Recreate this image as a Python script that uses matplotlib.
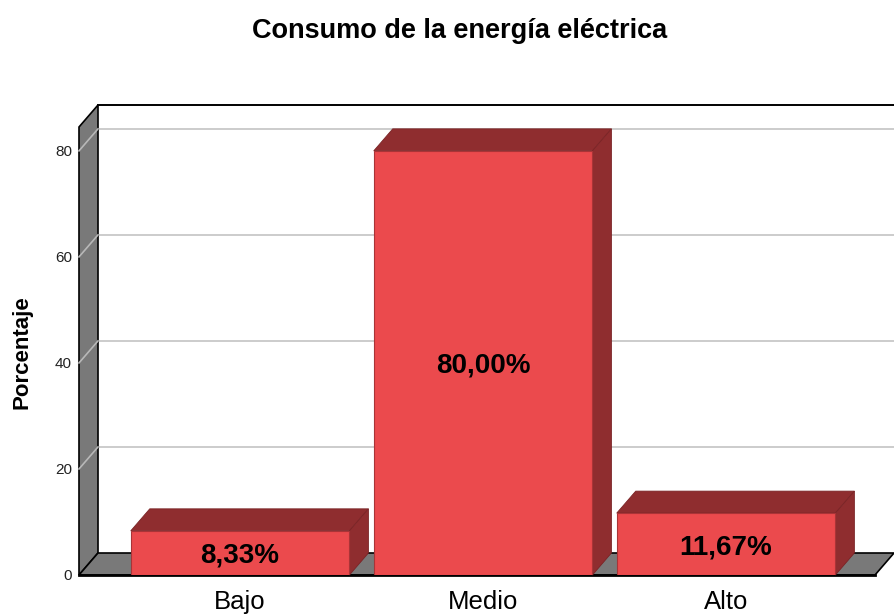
import matplotlib
matplotlib.use("Agg")
import matplotlib.pyplot as plt
from matplotlib.patches import Polygon
from matplotlib.transforms import Affine2D, IdentityTransform

plt.rcParams['font.family'] = ['Liberation Sans', 'DejaVu Sans']

# Data
categories = ['Bajo', 'Medio', 'Alto']
percentages = [8.33, 80.00, 11.67]
value_labels = ['8,33%', '80,00%', '11,67%']
yticks = [0, 20, 40, 60, 80]

front_red = '#EB4A4D'
dark_red = '#8F2D2F'
wall_gray = '#797979'
grid_gray = '#C8C8C8'

W, H = 894, 614
fig = plt.figure(figsize=(W / 100, H / 100), dpi=100)
ax = fig.add_axes([79 / W, 39 / H, 796 / W, 448 / H])
ax.set_xlim(-0.663, 2.613)
ax.set_ylim(0, 84.5)
ax.set_facecolor('none')
for s in ax.spines.values():
    s.set_visible(False)

xmin, xmax = ax.get_xlim()
ymax = ax.get_ylim()[1]

# depth offset of the 3D box, in pixels
DX, DY = 19, 22
back = ax.transData + Affine2D().translate(DX, DY)


def pt(x, y, depth=0):
    p = ax.transData.transform((x, y))
    return (p[0] + DX * depth, p[1] + DY * depth)


def poly(points, **kw):
    ax.add_patch(Polygon(points, closed=True, transform=IdentityTransform(),
                         clip_on=False, **kw))


def seg(p0, p1, **kw):
    ax.add_line(plt.Line2D([p0[0], p1[0]], [p0[1], p1[1]],
                           transform=IdentityTransform(), clip_on=False, **kw))


# back wall gridlines
for v in yticks[1:]:
    ax.plot([xmin, xmax], [v, v], transform=back, color=grid_gray, lw=1.3,
            zorder=1, clip_on=False)

# left wall and floor
poly([pt(xmin, 0), pt(xmin, ymax), pt(xmin, ymax, 1), pt(xmin, 0, 1)],
     facecolor=wall_gray, edgecolor='black', lw=1.2, zorder=2)
poly([pt(xmin, 0), pt(xmax, 0), pt(xmax, 0, 1), pt(xmin, 0, 1)],
     facecolor=wall_gray, edgecolor='black', lw=1.2, zorder=2)
for v in yticks[1:]:
    seg(pt(xmin, v), pt(xmin, v, 1), color='#B8B8B8', lw=1.2, zorder=2.5)
seg(pt(xmin, ymax, 1), pt(xmax, ymax, 1), color='black', lw=1.4, zorder=2.5)
seg(pt(xmin, 0), pt(xmax, 0), color='black', lw=2, zorder=2.6)

# bars
width = 0.9
ax.bar(range(len(categories)), percentages, width=width, color=front_red,
       edgecolor='#A93437', lw=0.8, zorder=4)
for i, p in enumerate(percentages):
    x0, x1 = i - width / 2, i + width / 2
    poly([pt(x0, p), pt(x1, p), pt(x1, p, 1), pt(x0, p, 1)],
         facecolor=dark_red, edgecolor='#7A2426', lw=0.6, zorder=3)
    poly([pt(x1, 0), pt(x1, p), pt(x1, p, 1), pt(x1, 0, 1)],
         facecolor=dark_red, edgecolor='#7A2426', lw=0.6, zorder=3)
    ax.text(i, p / 2, value_labels[i], ha='center', va='center_baseline',
            fontsize=20, fontweight='bold', zorder=6)

ax.set_yticks(yticks)
ax.set_xticks(range(len(categories)), categories)
ax.tick_params(axis='y', length=0, pad=5, labelsize=11, labelcolor='#222222')
ax.tick_params(axis='x', length=0, pad=11, labelsize=18.5)

fig.text(22 / W, 1 - 352 / H, 'Porcentaje', rotation=90, ha='center',
         va='center', fontsize=16, fontweight='bold')
fig.text(460 / W, 1 - 31 / H, 'Consumo de la energía eléctrica', ha='center',
         va='center', fontsize=19.5, fontweight='bold')

fig.savefig('out.png', dpi=100)
